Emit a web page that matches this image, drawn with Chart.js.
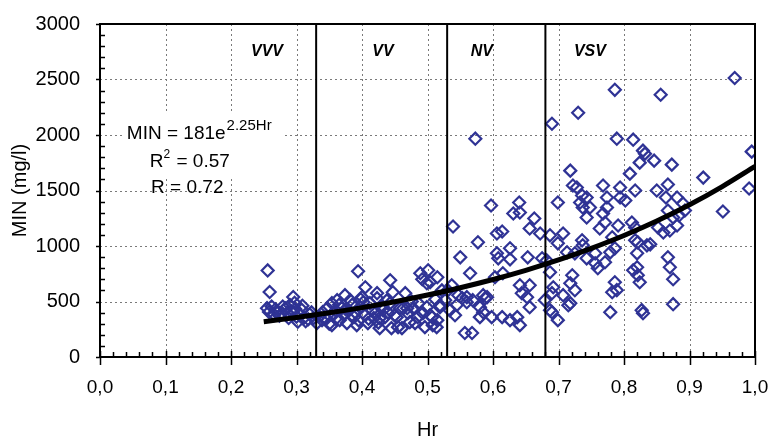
<!DOCTYPE html>
<html>
<head>
<meta charset="utf-8">
<script src="https://cdn.jsdelivr.net/npm/chart.js@4.4.0/dist/chart.umd.min.js"></script>
<style>
  html, body { margin: 0; padding: 0; background: #fff; }
  #wrap { width: 769px; height: 436px; }
</style>
</head>
<body>
<div id="wrap"><canvas id="chart" width="769" height="436"></canvas></div>
<script>
// Hr vs MIN samples, split by zone
const vvvPoints = [
  [0.256, 780], [0.259, 585], [0.255, 440], [0.258, 405], [0.262, 455], [0.266, 380],
  [0.270, 415], [0.274, 372], [0.279, 455], [0.283, 438], [0.286, 398], [0.290, 468],
  [0.292, 410], [0.295, 540], [0.297, 488], [0.298, 432], [0.300, 362], [0.302, 318],
  [0.305, 385], [0.308, 425], [0.311, 352], [0.314, 322], [0.318, 340], [0.320, 385],
  [0.323, 402], [0.326, 350], [0.309, 462], [0.288, 352], [0.268, 430], [0.278, 395]
];
const vvPoints = [
  [0.331, 305], [0.335, 365], [0.339, 332], [0.340, 404], [0.344, 350], [0.347, 440],
  [0.350, 300], [0.354, 485], [0.354, 287], [0.356, 395], [0.360, 345], [0.362, 512],
  [0.366, 332], [0.369, 440], [0.372, 380], [0.374, 557], [0.377, 305], [0.380, 420],
  [0.382, 512], [0.385, 470], [0.388, 360], [0.392, 287], [0.394, 772], [0.397, 449],
  [0.400, 540], [0.402, 494], [0.405, 629], [0.405, 377], [0.409, 305], [0.412, 485],
  [0.415, 420], [0.418, 350], [0.420, 395], [0.423, 575], [0.423, 530], [0.427, 260],
  [0.427, 350], [0.430, 465], [0.432, 422], [0.435, 359], [0.438, 510], [0.443, 691],
  [0.443, 485], [0.445, 260], [0.447, 584], [0.450, 377], [0.453, 359], [0.455, 269],
  [0.458, 440], [0.461, 260], [0.463, 440], [0.466, 575], [0.469, 440], [0.470, 395],
  [0.473, 314], [0.476, 500], [0.478, 440], [0.481, 305], [0.485, 359], [0.486, 485],
  [0.489, 754], [0.492, 700], [0.493, 395], [0.496, 269], [0.499, 664], [0.499, 449],
  [0.501, 781], [0.504, 377], [0.504, 673], [0.507, 359], [0.508, 287], [0.512, 520],
  [0.514, 269], [0.515, 718], [0.515, 332], [0.519, 449], [0.519, 467], [0.522, 600],
  [0.527, 512], [0.365, 470], [0.375, 430], [0.390, 400], [0.395, 330], [0.410, 345],
  [0.425, 310], [0.440, 400], [0.360, 420], [0.398, 520]
];
const nvPoints = [
  [0.534, 422], [0.537, 647], [0.539, 1176], [0.542, 377], [0.547, 557], [0.550, 898],
  [0.553, 530], [0.557, 216], [0.560, 539], [0.560, 494], [0.565, 754], [0.568, 216],
  [0.569, 512], [0.573, 1967], [0.577, 1033], [0.580, 449], [0.580, 359], [0.585, 404],
  [0.585, 557], [0.588, 530], [0.591, 539], [0.597, 1365], [0.598, 359], [0.603, 718],
  [0.606, 1113], [0.606, 934], [0.608, 889], [0.614, 1131], [0.614, 359], [0.615, 754],
  [0.626, 979], [0.626, 880], [0.626, 332], [0.631, 1293], [0.637, 359], [0.640, 1392],
  [0.641, 1302], [0.641, 647], [0.641, 287], [0.644, 575], [0.652, 539], [0.653, 898],
  [0.656, 1158], [0.656, 647], [0.656, 449], [0.663, 1248], [0.672, 1113], [0.675, 889],
  [0.531, 600], [0.545, 470]
];
const vsvPoints = [
  [0.687, 1096], [0.690, 2101], [0.692, 629], [0.699, 1392], [0.699, 1024], [0.707, 1113],
  [0.687, 763], [0.690, 575], [0.707, 557], [0.715, 467], [0.687, 422], [0.679, 512],
  [0.699, 332], [0.682, 870], [0.690, 404], [0.713, 943], [0.718, 1679], [0.718, 664],
  [0.718, 485], [0.721, 736], [0.722, 1545], [0.725, 934], [0.725, 602], [0.728, 1527],
  [0.730, 2200], [0.733, 1392], [0.736, 1455], [0.736, 1051], [0.737, 1347], [0.737, 1006],
  [0.743, 1437], [0.743, 1257], [0.743, 889], [0.748, 1347], [0.756, 934], [0.756, 844],
  [0.760, 799], [0.763, 1158], [0.768, 1545], [0.768, 1293], [0.771, 1212], [0.771, 853],
  [0.774, 1437], [0.774, 1347], [0.779, 943], [0.779, 404], [0.782, 1078], [0.782, 584],
  [0.786, 2407], [0.786, 979], [0.786, 673], [0.789, 1967], [0.789, 602], [0.791, 1185],
  [0.794, 1527], [0.794, 1437], [0.802, 1410], [0.809, 1652], [0.812, 1212], [0.814, 1958],
  [0.814, 781], [0.817, 1500], [0.817, 1167], [0.817, 1051], [0.820, 934], [0.820, 808],
  [0.821, 1033], [0.821, 736], [0.824, 1751], [0.824, 673], [0.827, 422], [0.829, 1859],
  [0.829, 395], [0.832, 1832], [0.835, 1006], [0.840, 1015], [0.846, 1769], [0.850, 1500],
  [0.852, 1167], [0.856, 2362], [0.860, 1122], [0.864, 1437], [0.867, 1554], [0.867, 1320],
  [0.867, 898], [0.870, 1140], [0.870, 808], [0.873, 1733], [0.875, 1257], [0.875, 700],
  [0.875, 476], [0.881, 1437], [0.881, 1185], [0.884, 1275], [0.890, 1383], [0.893, 1320],
  [0.921, 1616], [0.951, 1311], [0.969, 2514], [0.991, 1518], [0.995, 1850]
];

// exponential fit MIN = 181e^(2.25Hr)
const trendHr  = [0.25, 0.30, 0.35, 0.40, 0.45, 0.50, 0.55, 0.60, 0.65, 0.70, 0.75, 0.80, 0.85, 0.90, 0.95, 1.00];
const trendMin = [318, 356, 398, 445, 498, 558, 624, 698, 781, 874, 979, 1095, 1225, 1371, 1535, 1717];

// zone boundaries and labels
const zoneBounds = [0.33, 0.53, 0.68];
const zoneNames = ['VVV', 'VV', 'NV', 'VSV'];
const zoneLabelHr = [0.255, 0.432, 0.583, 0.748];
const zoneLabelMin = 2750;

// gridline positions
const hrGrid = [0.1, 0.2, 0.3, 0.4, 0.5, 0.6, 0.7, 0.8, 0.9];
const minGrid = [500, 1000, 1500, 2000, 2500];

const FONT = "'Liberation Sans', Arial, sans-serif";
const BLUE = '#2f3395';

const samples = [...vvvPoints, ...vvPoints, ...nvPoints, ...vsvPoints].map(p => ({ x: p[0], y: p[1] }));
const trend = trendHr.map((h, i) => ({ x: h, y: trendMin[i] }));

const boundaryDatasets = zoneBounds.map(b => ({
  type: 'line',
  data: [{ x: b, y: 0 }, { x: b, y: 3000 }],
  borderColor: '#000',
  borderWidth: 2,
  pointRadius: 0,
  order: 1
}));

// dotted grid, frame, minor ticks, zone names and the fit equation
const decorations = {
  id: 'decorations',
  beforeDatasetsDraw(chart) {
    const { ctx, chartArea: a, scales: { x, y } } = chart;
    ctx.save();
    ctx.strokeStyle = '#7a7a7a';
    ctx.lineWidth = 1;
    ctx.setLineDash([2, 3]);
    ctx.beginPath();
    hrGrid.forEach(v => {
      const px = Math.round(x.getPixelForValue(v)) + 0.5;
      ctx.moveTo(px, a.top); ctx.lineTo(px, a.bottom);
    });
    minGrid.forEach(v => {
      const py = Math.round(y.getPixelForValue(v)) + 0.5;
      ctx.moveTo(a.left, py); ctx.lineTo(a.right, py);
    });
    ctx.stroke();
    ctx.setLineDash([]);

    // white box behind the equation
    ctx.fillStyle = '#fff';
    const bx = x.getPixelForValue(0.038), by = y.getPixelForValue(2190);
    ctx.fillRect(bx, by, x.getPixelForValue(0.278) - bx, y.getPixelForValue(1620) - by);
    ctx.restore();
  },
  afterDraw(chart) {
    const { ctx, chartArea: a, scales: { x, y } } = chart;
    ctx.save();
    ctx.strokeStyle = '#000';
    ctx.lineWidth = 2;
    ctx.strokeRect(a.left, a.top, a.right - a.left, a.bottom - a.top);

    ctx.lineWidth = 1.5;
    ctx.beginPath();
    for (let v = 0; v <= 3000; v += 100) {
      const py = Math.round(y.getPixelForValue(v)) + 0.5;
      if (v % 500 === 0) { ctx.moveTo(a.left - 4, py); ctx.lineTo(a.left, py); }
      else { ctx.moveTo(a.left, py); ctx.lineTo(a.left + 5, py); }
    }
    for (let i = 0; i <= 50; i++) {
      const px = Math.round(x.getPixelForValue(i / 50)) + 0.5;
      if (i % 5 === 0) { ctx.moveTo(px, a.bottom + 8); ctx.lineTo(px, a.bottom - 6); }
      else { ctx.moveTo(px, a.bottom); ctx.lineTo(px, a.bottom - 5); }
    }
    ctx.stroke();

    // zone names
    ctx.fillStyle = '#000';
    ctx.font = 'italic bold 16px ' + FONT;
    ctx.textAlign = 'center';
    ctx.textBaseline = 'middle';
    zoneNames.forEach((n, i) => {
      ctx.fillText(n, x.getPixelForValue(zoneLabelHr[i]), y.getPixelForValue(zoneLabelMin));
    });

    // equation block
    ctx.textAlign = 'left';
    ctx.textBaseline = 'alphabetic';
    let px = x.getPixelForValue(0.041);
    let py = y.getPixelForValue(1967);
    ctx.font = '19px ' + FONT;
    ctx.fillText('MIN = 181e', px, py);
    px += ctx.measureText('MIN = 181e').width + 1;
    ctx.font = '15px ' + FONT;
    ctx.fillText('2.25Hr', px, py - 9);

    px = x.getPixelForValue(0.076);
    py = y.getPixelForValue(1715);
    ctx.font = '19px ' + FONT;
    ctx.fillText('R', px, py);
    px += ctx.measureText('R').width;
    ctx.font = '12px ' + FONT;
    ctx.fillText('2', px, py - 9);
    px += ctx.measureText('2').width + 1;
    ctx.font = '19px ' + FONT;
    ctx.fillText(' = 0.57', px, py);

    ctx.fillText('R = 0.72', x.getPixelForValue(0.078), y.getPixelForValue(1475));
    ctx.restore();
  }
};

new Chart(document.getElementById('chart'), {
  type: 'scatter',
  data: {
    datasets: [
      {
        type: 'line',
        data: trend,
        borderColor: '#000',
        borderWidth: 5,
        pointRadius: 0,
        cubicInterpolationMode: 'monotone',
        order: 0
      },
      ...boundaryDatasets,
      {
        data: samples,
        pointStyle: 'rectRot',
        pointRadius: 6,
        borderColor: BLUE,
        borderWidth: 2.2,
        backgroundColor: 'rgba(0,0,0,0)',
        order: 2
      }
    ]
  },
  options: {
    responsive: false,
    animation: false,
    layout: { padding: { top: 23, right: 14, left: 0, bottom: 0 } },
    plugins: { legend: { display: false }, tooltip: { enabled: false } },
    scales: {
      x: {
        type: 'linear',
        min: 0,
        max: 1,
        afterFit: s => { s.height = 79; s.paddingRight = 0; },
        ticks: {
          stepSize: 0.1,
          padding: 11,
          color: '#000',
          font: { family: FONT, size: 19 },
          callback: v => v.toFixed(1).replace('.', ',')
        },
        grid: { display: false },
        border: { display: false },
        title: {
          display: true,
          text: 'Hr',
          color: '#000',
          font: { family: FONT, size: 20, lineHeight: 0.6 },
          padding: { top: 0, bottom: 0 }
        }
      },
      y: {
        min: 0,
        max: 3000,
        afterFit: s => { s.width = 100; },
        ticks: {
          stepSize: 500,
          padding: 12,
          color: '#000',
          font: { family: FONT, size: 20 },
          callback: v => String(v)
        },
        grid: { display: false },
        border: { display: false },
        title: {
          display: true,
          text: 'MIN (mg/l)',
          color: '#000',
          font: { family: FONT, size: 20, lineHeight: 1 },
          padding: { top: 10, bottom: 0 }
        }
      }
    }
  },
  plugins: [decorations]
});
</script>
</body>
</html>
